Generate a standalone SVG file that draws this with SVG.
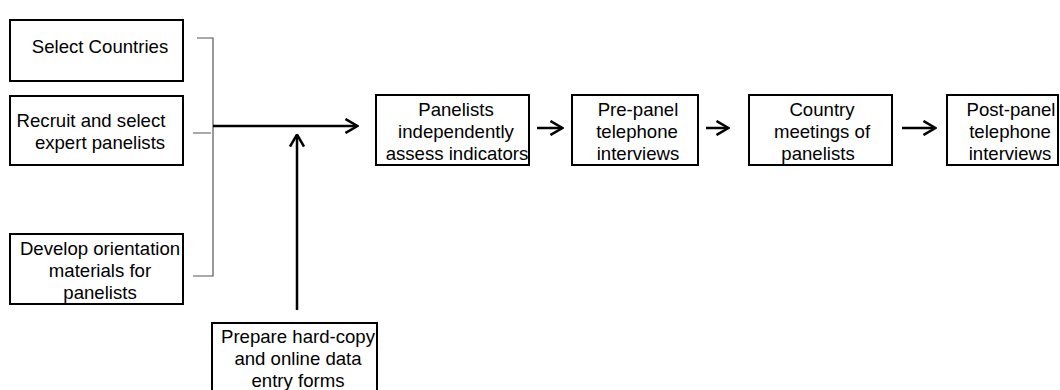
<svg xmlns="http://www.w3.org/2000/svg" width="1060" height="390" viewBox="0 0 1060 390">
<style>
.box{fill:#fff;stroke:#000;stroke-width:2}
.t{font-family:"Liberation Sans",Arial,sans-serif;font-size:18.6px;fill:#000;text-anchor:middle}
.br{stroke:#555;stroke-width:1.2;fill:none}
.ar{stroke:#000;stroke-width:2.5;fill:none;marker-end:url(#ah)}
</style>
<defs>
<marker id="ah" viewBox="0 0 14 16" refX="12.5" refY="8" markerWidth="14" markerHeight="16" markerUnits="userSpaceOnUse" orient="auto">
<path d="M1,1 L13,8 L1,15" fill="none" stroke="#000" stroke-width="2.5"/>
</marker>
</defs>
<rect width="1060" height="390" fill="#fff"/>
<g id="n1"><rect class="box" x="10" y="20" width="173" height="61"/><text class="t" x="100" y="53">Select Countries</text></g>
<g id="n2"><rect class="box" x="10" y="96" width="173" height="69"/><text class="t" x="91" y="127">Recruit and select</text><text class="t" x="100" y="149">expert panelists</text></g>
<g id="n3"><rect class="box" x="10" y="234" width="173" height="70"/><text class="t" x="100" y="255">Develop orientation</text><text class="t" x="100" y="277">materials for</text><text class="t" x="100" y="299">panelists</text></g>
<g id="n4"><rect class="box" x="376" y="95" width="153" height="70"/><text class="t" x="456" y="116">Panelists</text><text class="t" x="456" y="138">independently</text><text class="t" x="457" y="160">assess indicators</text></g>
<g id="n5"><rect class="box" x="572" y="95" width="126" height="70"/><text class="t" x="638" y="116">Pre-panel</text><text class="t" x="637" y="138">telephone</text><text class="t" x="638" y="160">interviews</text></g>
<g id="n6"><rect class="box" x="749" y="95" width="143" height="70"/><text class="t" x="822" y="116">Country</text><text class="t" x="822" y="138">meetings of</text><text class="t" x="818" y="160">panelists</text></g>
<g id="n7"><rect class="box" x="947" y="95" width="111" height="70"/><text class="t" x="1011" y="116">Post-panel</text><text class="t" x="1010" y="138">telephone</text><text class="t" x="1010" y="160">interviews</text></g>
<g id="n8"><rect class="box" x="212" y="323" width="165" height="70"/><text class="t" x="298" y="343">Prepare hard-copy</text><text class="t" x="298" y="365">and online data</text><text class="t" x="298" y="387">entry forms</text></g>
<g id="connectors">
<path class="br" d="M197,38 H213 V276 H193 M193,133 H211"/>
<path class="ar" d="M213,126 H357"/>
<path class="ar" d="M297,310 V135"/>
<path class="ar" d="M537,128 H562"/>
<path class="ar" d="M706,128 H728"/>
<path class="ar" d="M902,128 H935"/>
</g>
</svg>
